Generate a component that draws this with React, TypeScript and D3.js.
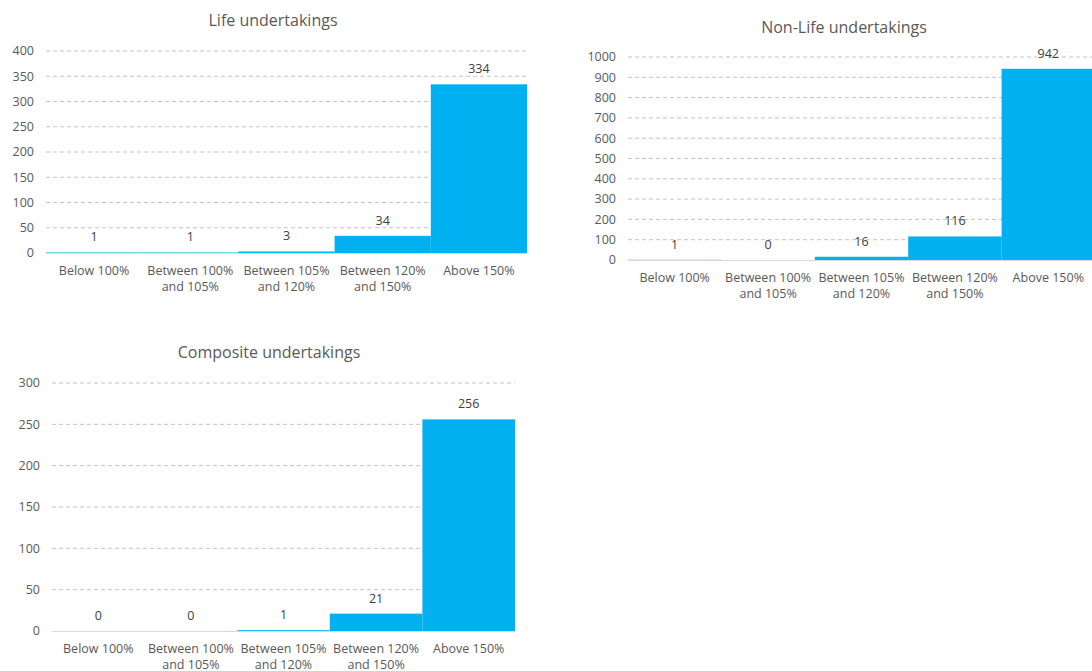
import React from "react";
import * as d3 from "d3";

const categories = [
  ["Below 100%"],
  ["Between 100%", "and 105%"],
  ["Between 105%", "and 120%"],
  ["Between 120%", "and 150%"],
  ["Above 150%"],
];

const lifeValues = [1, 1, 3, 34, 334];
const nonLifeValues = [1, 0, 16, 116, 942];
const compositeValues = [0, 0, 1, 21, 256];

const lifeTicks = [0, 50, 100, 150, 200, 250, 300, 350, 400];
const nonLifeTicks = [0, 100, 200, 300, 400, 500, 600, 700, 800, 900, 1000];
const compositeTicks = [0, 50, 100, 150, 200, 250, 300];

const FONT = "'Open Sans', 'Noto Sans', sans-serif";
const TEXT = "#595959";
const BLUE = "#00B0F0";

interface IBarChartProps {
  title: string;
  values: number[];
  ticks: number[];
  left: number;
  right: number;
  top: number;
  bottom: number;
  titleX: number;
  titleY: number;
}

const BarChart = (props: IBarChartProps) => {
  const x = d3
    .scaleBand<number>()
    .domain(d3.range(categories.length))
    .range([props.left, props.right])
    .padding(0);
  const yMax = props.ticks[props.ticks.length - 1];
  const y = d3.scaleLinear().domain([0, yMax]).range([props.bottom, props.top]);

  return (
    <g fontFamily={FONT} fill={TEXT}>
      <text x={props.titleX} y={props.titleY} textAnchor="middle" fontSize={16}>
        {props.title}
      </text>

      {/* gridlines */}
      {props.ticks
        .filter((t) => t > 0)
        .map((t) => (
          <line
            key={t}
            x1={props.left}
            x2={props.right}
            y1={y(t)}
            y2={y(t)}
            stroke="#c4c4c4"
            strokeDasharray="4,3"
          />
        ))}

      {/* y tick labels */}
      {props.ticks.map((t) => (
        <text
          key={t}
          x={props.left - 12}
          y={y(t)}
          dy="0.35em"
          textAnchor="end"
          fontSize={12.5}
        >
          {t}
        </text>
      ))}

      {/* bars */}
      {props.values.map((v, i) => (
        <rect
          key={i}
          x={x(i)!}
          y={y(v)}
          width={x.bandwidth()}
          height={props.bottom - y(v)}
          fill={BLUE}
        />
      ))}

      <line
        x1={props.left}
        x2={props.right}
        y1={props.bottom + 0.5}
        y2={props.bottom + 0.5}
        stroke="#d9d9d9"
      />

      {/* value labels */}
      {props.values.map((v, i) => (
        <text
          key={i}
          x={x(i)! + x.bandwidth() / 2}
          y={y(v) - 11}
          textAnchor="middle"
          fontSize={12.5}
          fill="#404040"
        >
          {v}
        </text>
      ))}

      {/* category labels */}
      {categories.map((lines, i) => (
        <text
          key={i}
          x={x(i)! + x.bandwidth() / 2}
          y={props.bottom + 22}
          textAnchor="middle"
          fontSize={12.5}
        >
          {lines.map((l, j) => (
            <tspan key={j} x={x(i)! + x.bandwidth() / 2} dy={j === 0 ? 0 : 16}>
              {l}
            </tspan>
          ))}
        </text>
      ))}
    </g>
  );
};

export default function App() {
  return (
    <svg
      width={1092}
      height={671}
      style={{ position: "absolute", left: 0, top: 0, background: "#fff" }}
    >
      <BarChart
        title="Life undertakings"
        values={lifeValues}
        ticks={lifeTicks}
        left={46}
        right={527}
        top={51}
        bottom={253}
        titleX={273}
        titleY={26}
      />
      <BarChart
        title="Non-Life undertakings"
        values={nonLifeValues}
        ticks={nonLifeTicks}
        left={628}
        right={1095}
        top={57}
        bottom={260}
        titleX={844}
        titleY={33}
      />
      <BarChart
        title="Composite undertakings"
        values={compositeValues}
        ticks={compositeTicks}
        left={52}
        right={515}
        top={383}
        bottom={631}
        titleX={269}
        titleY={358}
      />
    </svg>
  );
}
